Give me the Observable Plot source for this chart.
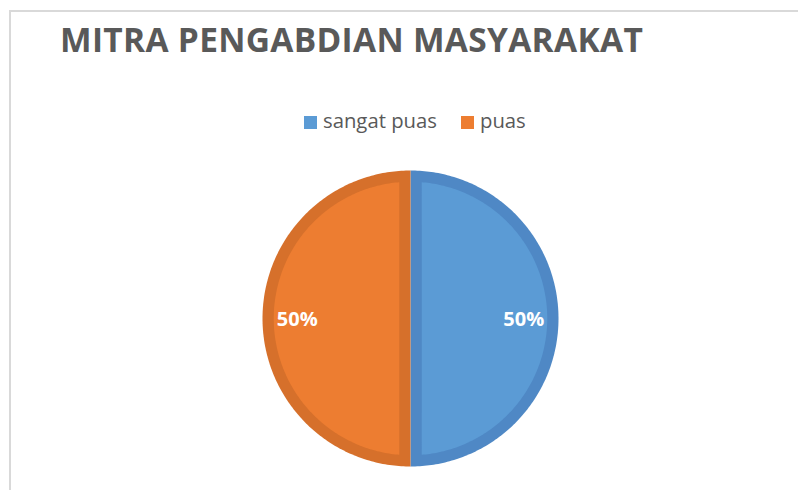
<!DOCTYPE html>
<html><head><meta charset="utf-8">
<script src="https://cdn.jsdelivr.net/npm/d3@7"></script>
<script src="https://cdn.jsdelivr.net/npm/@observablehq/plot@0.6"></script>
<style>
html,body{margin:0;padding:0;background:#fff}
body{width:798px;height:490px;overflow:hidden;position:relative;font-family:"Open Sans",sans-serif}
#frame{position:absolute;left:9px;top:10px;width:800px;height:500px;border-left:2px solid #d9d9d9;border-top:2px solid #d9d9d9}
#chart{position:absolute;left:0;top:0}
#title{position:absolute;left:60px;top:19px;font-size:33.5px;line-height:40px;font-weight:700;color:#595959;white-space:nowrap;letter-spacing:0.3px}
.leg{position:absolute;top:106px;font-size:20.3px;line-height:28px;color:#595959;white-space:nowrap}
.sw{display:inline-block;width:13px;height:13px;margin-right:6px;vertical-align:-1px}
</style></head>
<body>
<div id="frame"></div>
<div id="chart"></div>
<div id="title">MITRA PENGABDIAN MASYARAKAT</div>
<div id="legend"></div>
<script>
const categories = ["sangat puas", "puas"];
const values = [50, 50];
const labels = ["50%", "50%"];

const fillColors = ["#5B9BD5", "#ED7D31"];
const edgeColors = ["#4F88C5", "#D6702B"];

const rows = categories.map((c, i) => ({category: c, value: values[i], label: labels[i], i}));
const slices = d3.pie().sort(null).value(d => d.value)(rows);

const W = 0.076, N = 200;
function outerPts(s) {
  const pts = [{x: 0, y: 0}];
  for (let k = 0; k <= N; k++) {
    const a = s.startAngle + (s.endAngle - s.startAngle) * k / N;
    pts.push({x: Math.sin(a), y: Math.cos(a)});
  }
  return pts;
}
function innerPts(s) {
  const th = s.endAngle - s.startAngle, mid = (s.startAngle + s.endAngle) / 2;
  const c = W / Math.sin(th / 2), rho = 1 - W, del = Math.asin(W / rho);
  const pts = [{x: c * Math.sin(mid), y: c * Math.cos(mid)}];
  for (let k = 0; k <= N; k++) {
    const a = s.startAngle + del + (th - 2 * del) * k / N;
    pts.push({x: rho * Math.sin(a), y: rho * Math.cos(a)});
  }
  return pts;
}
const marks = [];
slices.forEach(s => {
  const i = s.data.i;
  marks.push(Plot.line(outerPts(s), {x: "x", y: "y", curve: "linear-closed", fill: edgeColors[i], stroke: "none"}));
  marks.push(Plot.line(innerPts(s), {x: "x", y: "y", curve: "linear-closed", fill: fillColors[i], stroke: "none"}));
});
const labelPts = slices.map(s => {
  const mid = (s.startAngle + s.endAngle) / 2;
  return {x: 0.765 * Math.sin(mid), y: 0.765 * Math.cos(mid), label: s.data.label};
});
marks.push(Plot.text(labelPts, {x: "x", y: "y", text: "label", fill: "#fff", fontSize: 20, fontWeight: 700, dy: 1}));

const chart = Plot.plot({
  width: 798, height: 490,
  marginLeft: 262, marginRight: 240, marginTop: 170, marginBottom: 24,
  x: {domain: [-1, 1], axis: null},
  y: {domain: [-1, 1], axis: null},
  style: {fontFamily: "'Open Sans', sans-serif", background: "transparent"},
  marks
});
document.getElementById("chart").appendChild(chart);

const legendLefts = [304, 461];
const leg = document.getElementById("legend");
categories.forEach((c, i) => {
  const d = document.createElement("div");
  d.className = "leg";
  d.style.left = legendLefts[i] + "px";
  d.innerHTML = `<span class="sw" style="background:${fillColors[i]}"></span>${c}`;
  leg.appendChild(d);
});
</script>
</body></html>
